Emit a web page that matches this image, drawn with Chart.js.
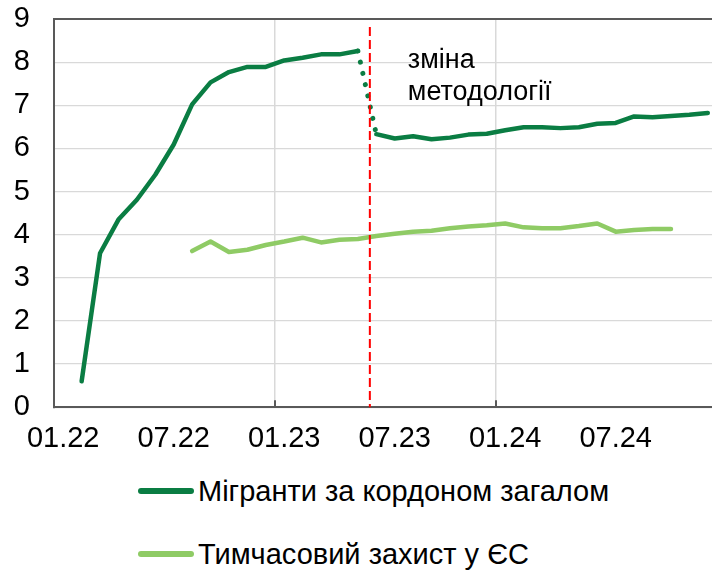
<!DOCTYPE html>
<html>
<head>
<meta charset="utf-8">
<script src="https://cdn.jsdelivr.net/npm/chart.js@4.4.1/dist/chart.umd.min.js"></script>
<style>
    html, body { margin: 0; padding: 0; overflow: hidden; background: #fff; }
    body { width: 712px; height: 570px; position: relative; font-family: "Liberation Sans", Arial, sans-serif; }
    .chart-box { position: absolute; left: 0; top: 0; width: 722px; height: 470px; }
    .legend-row { position: absolute; left: 138px; display: flex; align-items: center; font-size: 29px; line-height: 34px; color: #000; white-space: nowrap; }
    .legend-line { width: 56px; height: 6px; border-radius: 3px; margin-right: 4px; }
</style>
</head>
<body>
<div class="chart-box"><canvas id="chart" width="722" height="470"></canvas></div>
<div class="legend-row" id="leg0" style="top: 474px;"></div>
<div class="legend-row" id="leg1" style="top: 537px;"></div>
<script>
    // місяці 01.22 – 12.24
    const months = [
        '01.22', '02.22', '03.22', '04.22', '05.22', '06.22', '07.22', '08.22', '09.22', '10.22', '11.22', '12.22',
        '01.23', '02.23', '03.23', '04.23', '05.23', '06.23', '07.23', '08.23', '09.23', '10.23', '11.23', '12.23',
        '01.24', '02.24', '03.24', '04.24', '05.24', '06.24', '07.24', '08.24', '09.24', '10.24', '11.24', '12.24'
    ];
    const tickLabels = ['01.22', '07.22', '01.23', '07.23', '01.24', '07.24'];
    const yearStarts = ['01.23', '01.24'];

    const seriesNames = ['Мігранти за кордоном загалом', 'Тимчасовий захист у ЄС'];
    const migrants = [
        null, 0.60, 3.57, 4.35, 4.81, 5.39, 6.09, 7.02, 7.53, 7.77, 7.89, 7.89,
        8.04, 8.10, 8.18, 8.18, 8.26, 6.33, 6.23, 6.28, 6.21, 6.25, 6.32, 6.34,
        6.42, 6.49, 6.49, 6.47, 6.49, 6.57, 6.59, 6.74, 6.72, 6.75, 6.78, 6.82
    ];
    const protection = [
        null, null, null, null, null, null, null, 3.62, 3.84, 3.60, 3.65, 3.76,
        3.84, 3.93, 3.82, 3.88, 3.90, 3.97, 4.02, 4.07, 4.09, 4.15, 4.19, 4.22,
        4.26, 4.17, 4.15, 4.15, 4.20, 4.26, 4.07, 4.11, 4.13, 4.13, null, null
    ];
    // розрив методології: між 05.23 і 06.23
    const breakAfter = 16;
    const breakPos = 16.65;
    const noteLines = ['зміна', 'методології'];

    const darkGreen = '#0A7D43';
    const lightGreen = '#8FCB65';
    const axisGrey = '#595959';
    const gridGrey = '#D9D9D9';

    Chart.defaults.font.family = '"Liberation Sans", Arial, sans-serif';
    Chart.defaults.color = '#000';

    const extras = {
        id: 'extras',
        afterDatasetsDraw(chart) {
            const { ctx, chartArea, scales } = chart;
            const x = scales.x, y = scales.y;
            ctx.save();
            // засічки на межах років
            ctx.strokeStyle = axisGrey;
            ctx.lineWidth = 2;
            yearStarts.forEach(m => {
                const i = months.indexOf(m);
                const px = (x.getPixelForValue(i - 1) + x.getPixelForValue(i)) / 2;
                ctx.beginPath();
                ctx.moveTo(px, chartArea.bottom);
                ctx.lineTo(px, chartArea.bottom - 7);
                ctx.stroke();
            });
            // червона вертикаль
            const bx = x.getPixelForValue(breakPos);
            ctx.strokeStyle = '#FF0000';
            ctx.lineWidth = 2;
            ctx.setLineDash([9, 4]);
            ctx.beginPath();
            ctx.moveTo(bx, chartArea.top + 8);
            ctx.lineTo(bx, chartArea.bottom);
            ctx.stroke();
            ctx.setLineDash([]);
            // підпис
            ctx.fillStyle = '#000';
            ctx.font = '27px "Liberation Sans", Arial, sans-serif';
            ctx.textAlign = 'left';
            ctx.textBaseline = 'alphabetic';
            noteLines.forEach((t, k) => ctx.fillText(t, bx + 38, y.getPixelForValue(8) + 6 + k * 32));
            ctx.restore();
        }
    };

    const chart = new Chart(document.getElementById('chart').getContext('2d'), {
        type: 'line',
        data: {
            labels: months,
            datasets: [{
                label: seriesNames[0],
                data: migrants,
                borderColor: darkGreen,
                borderWidth: 4.5,
                borderCapStyle: 'round',
                borderJoinStyle: 'round',
                pointRadius: 0,
                tension: 0,
                segment: {
                    borderDash: c => c.p0DataIndex === breakAfter ? [0.01, 11.5] : undefined,
                    borderWidth: c => c.p0DataIndex === breakAfter ? 5 : undefined
                }
            }, {
                label: seriesNames[1],
                data: protection,
                borderColor: lightGreen,
                borderWidth: 4.5,
                borderCapStyle: 'round',
                borderJoinStyle: 'round',
                pointRadius: 0,
                tension: 0
            }]
        },
        options: {
            responsive: false,
            animation: false,
            layout: { padding: { left: 0, right: 5, top: 0, bottom: 0 } },
            plugins: {
                legend: { display: false },
                tooltip: { enabled: false }
            },
            scales: {
                x: {
                    offset: true,
                    border: { color: axisGrey, width: 2 },
                    grid: {
                        offset: true,
                        drawTicks: false,
                        color: c => yearStarts.includes(months[c.index]) ? gridGrey : 'rgba(0,0,0,0)',
                        lineWidth: 1.5
                    },
                    ticks: {
                        autoSkip: false,
                        maxRotation: 0,
                        padding: 14,
                        font: { size: 29 },
                        callback: (v, i) => tickLabels.includes(months[i]) ? months[i] : ''
                    }
                },
                y: {
                    min: 0,
                    max: 9,
                    afterFit: s => {
                        s.width = 54;
                        s.paddingTop = 19;
                        s.paddingBottom = 10;
                    },
                    border: { color: axisGrey, width: 2 },
                    grid: {
                        drawTicks: false,
                        color: c => c.tick.value === 9 ? axisGrey : gridGrey,
                        lineWidth: c => c.tick.value === 9 ? 2 : 1.25
                    },
                    ticks: {
                        stepSize: 1,
                        padding: 24,
                        font: { size: 29 }
                    }
                }
            }
        },
        plugins: [extras]
    });

    // легенда
    chart.data.datasets.forEach((ds, i) => {
        const row = document.getElementById('leg' + i);
        const sw = document.createElement('span');
        sw.className = 'legend-line';
        sw.style.background = ds.borderColor;
        const tx = document.createElement('span');
        tx.textContent = ds.label;
        row.appendChild(sw);
        row.appendChild(tx);
    });
</script>
</body>
</html>
